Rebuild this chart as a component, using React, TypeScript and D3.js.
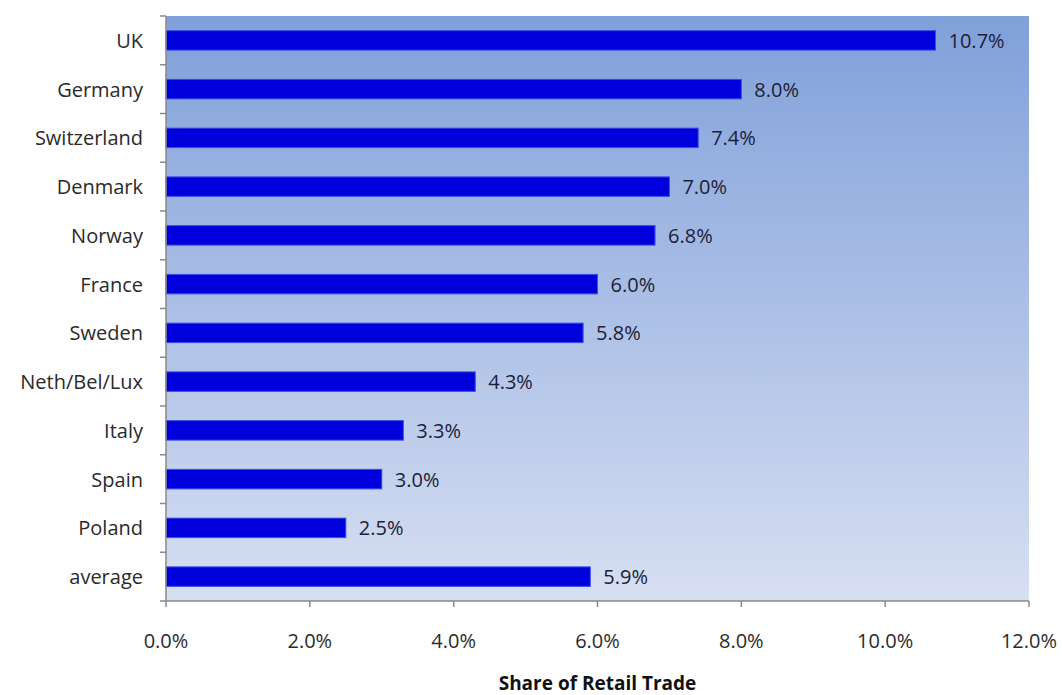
import React from "react";
import * as d3 from "d3";

const categories = ["UK", "Germany", "Switzerland", "Denmark", "Norway", "France", "Sweden", "Neth/Bel/Lux", "Italy", "Spain", "Poland", "average"];
const values = [10.7, 8.0, 7.4, 7.0, 6.8, 6.0, 5.8, 4.3, 3.3, 3.0, 2.5, 5.9];
const xTicks = [0, 2, 4, 6, 8, 10, 12];
const xTitle = "Share of Retail Trade";

export default function App() {
  const W = 1062, H = 695;
  const left = 166, right = 1029, top = 16, bottom = 601;
  const x = d3.scaleLinear().domain([0, 12]).range([left, right]);
  const y = d3.scaleBand<string>().domain(categories).range([top, bottom]).paddingInner(0.6).paddingOuter(0.3);
  const bandTop = (i: number) => top + i * ((bottom - top) / categories.length);
  const font = "'Open Sans', Lato, sans-serif";
  const fs = 20;
  const fw = 500;
  return (
    <svg width={W} height={H} style={{ position: "absolute", left: 0, top: 0 }}>
      <defs>
        <linearGradient id="bg" x1="0" y1="0" x2="0" y2="1">
          <stop offset="0" stopColor="#80a0da" />
          <stop offset="1" stopColor="#d7dff2" />
        </linearGradient>
      </defs>
      <rect x={0} y={0} width={W} height={H} fill="#fff" />
      <rect x={left} y={top} width={right - left} height={bottom - top} fill="url(#bg)" />
      {categories.map((c, i) => {
        const yy = (y(c) as number);
        return (
          <g key={c}>
            <rect x={x(0)} y={yy} width={x(values[i]) - x(0)} height={y.bandwidth()} fill="#0000dd" stroke="#3a4ee8" strokeWidth={1} />
            <text x={x(values[i]) + 13} y={yy + y.bandwidth() / 2} dominantBaseline="central" fontFamily={font} fontSize={fs} fontWeight={fw} fill="#1c2136">
              {values[i].toFixed(1)}%
            </text>
            <text x={left - 23} y={yy + y.bandwidth() / 2} dominantBaseline="central" textAnchor="end" fontFamily={font} fontSize={fs} fontWeight={fw} fill="#2a2a2a">
              {c}
            </text>
          </g>
        );
      })}
      {d3.range(categories.length + 1).map((i) => (
        <line key={"yt" + i} x1={left - 6} x2={left} y1={bandTop(i)} y2={bandTop(i)} stroke="#888" strokeWidth={1.5} />
      ))}
      <line x1={left} x2={left} y1={top} y2={bottom} stroke="#888" strokeWidth={1.5} />
      <line x1={left} x2={right} y1={bottom} y2={bottom} stroke="#888" strokeWidth={1.5} />
      {xTicks.map((t) => (
        <g key={"xt" + t}>
          <line x1={x(t)} x2={x(t)} y1={bottom} y2={bottom + 6} stroke="#888" strokeWidth={1.5} />
          <text x={x(t)} y={bottom + 39} textAnchor="middle" dominantBaseline="central" fontFamily={font} fontSize={fs} fontWeight={fw} fill="#2a2a2a">
            {t.toFixed(1)}%
          </text>
        </g>
      ))}
      <text x={(left + right) / 2} y={683} textAnchor="middle" dominantBaseline="central" fontFamily={font} fontSize={19} fontWeight="bold" fill="#111">
        {xTitle}
      </text>
    </svg>
  );
}
